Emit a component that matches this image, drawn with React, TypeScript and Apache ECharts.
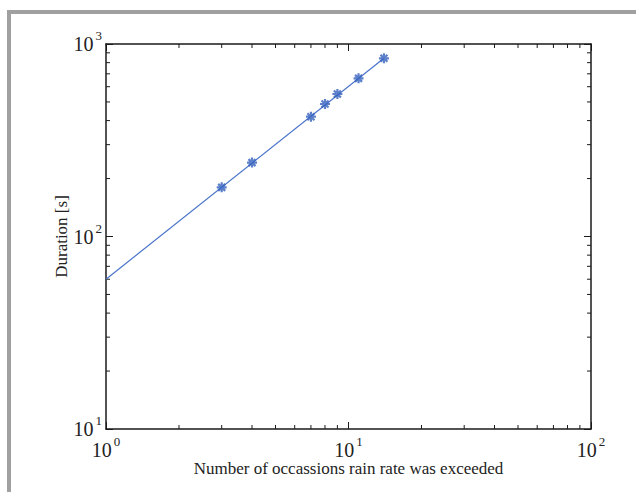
import React, { useEffect, useRef } from "react";
import * as echarts from "echarts";

// Observed data points (number of occasions vs duration)
const occasions = [3, 4, 7, 8, 9, 11, 14];
const durations = [180, 242, 419, 488, 550, 663, 843];

// Fitted line end points
const fitX = [1, 14];
const fitY = [60, 843];

// Minor tick positions (log decades)
const minorXTicks = [2, 3, 4, 5, 6, 7, 8, 9, 20, 30, 40, 50, 60, 70, 80, 90];
const minorYTicks = [20, 30, 40, 50, 60, 70, 80, 90, 200, 300, 400, 500, 600, 700, 800, 900];

const xName = "Number of occassions rain rate was exceeded";
const yName = "Duration [s]";

const FONT = "'Liberation Serif', 'Times New Roman', serif";

const supLabel = (v: number) => `{b|10}{s|${Math.round(Math.log10(v))}}`;
const richLabel = {
  b: { fontSize: 20, fontFamily: FONT, color: "#222", lineHeight: 20 },
  s: { fontSize: 13, fontFamily: FONT, color: "#222", lineHeight: 13, padding: [0, 0, 17, 2] },
};

export default function App() {
  const ref = useRef<HTMLDivElement>(null);
  useEffect(() => {
    document.body.style.margin = "0";
    if (!ref.current) return;
    const chart = echarts.init(ref.current, null, { renderer: "svg" });
    const axisLine = { show: true, lineStyle: { color: "#1a1a1a", width: 1.5 } };
    const axisTick = { show: true, inside: true, length: 7, lineStyle: { color: "#1a1a1a", width: 1 } };
    const minorLen = 4;
    const labelBase = { fontSize: 20, fontFamily: FONT, color: "#222", formatter: supLabel, rich: richLabel, showMinLabel: true, showMaxLabel: true };
    chart.setOption({
      animation: false,
      backgroundColor: "#fff",
      graphic: [
        { type: "rect", shape: { x: 7, y: 10, width: 629, height: 4 }, style: { fill: "#a0a0a0" } },
        { type: "rect", shape: { x: 7, y: 10, width: 4, height: 482 }, style: { fill: "#a0a0a0" } },
      ],
      grid: { left: 106, top: 44, right: 45, bottom: 63 },
      xAxis: [
        {
          type: "log",
          logBase: 10,
          min: 1,
          max: 100,
          axisLine,
          axisTick,
          splitLine: { show: false },
          axisLabel: { ...labelBase, margin: 11 },
          name: xName,
          nameLocation: "middle",
          nameGap: 31,
          nameMoveOverlap: false,
          nameTextStyle: { fontSize: 17, fontFamily: FONT, color: "#222" },
        },
        {
          type: "log",
          logBase: 10,
          min: 1,
          max: 100,
          position: "top",
          axisLine,
          axisTick,
          splitLine: { show: false },
          axisLabel: { show: false },
        },
      ],
      yAxis: [
        {
          type: "log",
          logBase: 10,
          min: 10,
          max: 1000,
          axisLine,
          axisTick,
          splitLine: { show: false },
          axisLabel: { ...labelBase, margin: 4 },
          name: yName,
          nameLocation: "middle",
          nameGap: 36,
          nameMoveOverlap: false,
          nameRotate: 90,
          nameTextStyle: { fontSize: 17, fontFamily: FONT, color: "#222" },
        },
        {
          type: "log",
          logBase: 10,
          min: 10,
          max: 1000,
          position: "right",
          axisLine,
          axisTick,
          splitLine: { show: false },
          axisLabel: { show: false },
        },
      ],
      series: [
        {
          type: "custom",
          silent: true,
          data: minorXTicks.map((v) => [v, 100]),
          renderItem: (params: any, api: any) => {
            const v = api.value(0);
            const b = api.coord([v, 10]);
            const t = api.coord([v, 1000]);
            return {
              type: "group",
              children: [
                { type: "line", shape: { x1: b[0], y1: b[1], x2: b[0], y2: b[1] - minorLen }, style: { stroke: "#1a1a1a", lineWidth: 1 } },
                { type: "line", shape: { x1: t[0], y1: t[1], x2: t[0], y2: t[1] + minorLen }, style: { stroke: "#1a1a1a", lineWidth: 1 } },
              ],
            };
          },
          z: 1,
        },
        {
          type: "custom",
          silent: true,
          data: minorYTicks.map((v) => [10, v]),
          renderItem: (params: any, api: any) => {
            const v = api.value(1);
            const l = api.coord([1, v]);
            const r = api.coord([100, v]);
            return {
              type: "group",
              children: [
                { type: "line", shape: { x1: l[0], y1: l[1], x2: l[0] + minorLen, y2: l[1] }, style: { stroke: "#1a1a1a", lineWidth: 1 } },
                { type: "line", shape: { x1: r[0], y1: r[1], x2: r[0] - minorLen, y2: r[1] }, style: { stroke: "#1a1a1a", lineWidth: 1 } },
              ],
            };
          },
          z: 1,
        },
        {
          type: "line",
          data: fitX.map((x, i) => [x, fitY[i]]),
          showSymbol: false,
          symbol: "none",
          lineStyle: { color: "#4a74c9", width: 1.2 },
          z: 2,
        },
        {
          type: "scatter",
          data: occasions.map((x, i) => [x, durations[i]]),
          symbol: "path://M0,-1L0,1M-1,0L1,0M-0.7,-0.7L0.7,0.7M-0.7,0.7L0.7,-0.7",
          symbolSize: 10,
          itemStyle: { color: "rgba(0,0,0,0)", borderColor: "#3560bd", borderWidth: 2.2 },
          z: 3,
        },
      ],
    });
    return () => chart.dispose();
  }, []);
  return <div ref={ref} style={{ width: 636, height: 492 }} />;
}
